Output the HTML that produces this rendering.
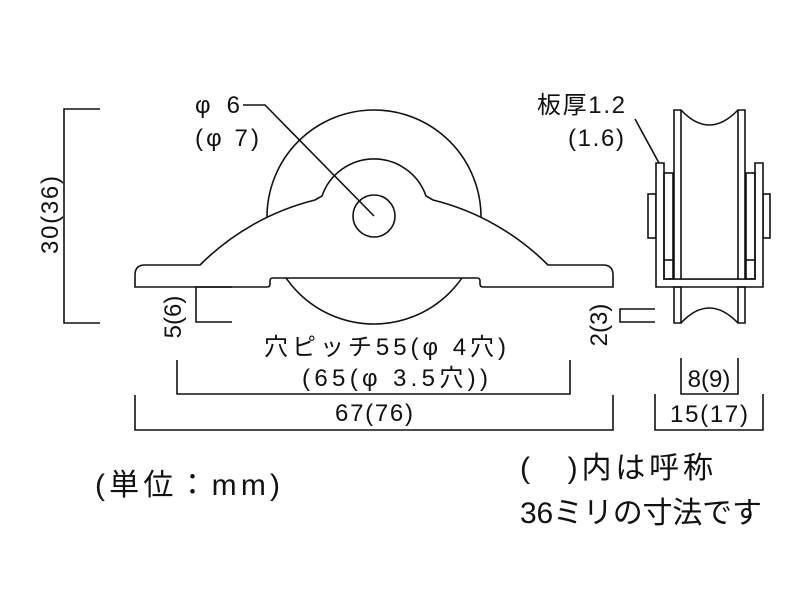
<!DOCTYPE html>
<html><head><meta charset="utf-8"><style>
html,body{margin:0;padding:0;background:#fff;}
svg{display:block;}
text{font-family:"Liberation Sans","Noto Sans CJK JP",sans-serif;fill:#111;}
</style></head><body>
<svg width="800" height="600" viewBox="0 0 800 600" xmlns="http://www.w3.org/2000/svg">
<g fill="none" stroke="#111" stroke-width="1.6">
<circle cx="374" cy="217" r="107" fill="#fff"/>
<path d="M145,265 L200,265 A246,246 0 0 1 315,200 L322,196 A55,55 0 0 1 426,196 L433,200 A246,246 0 0 1 548,265 L603,265 Q613,265 613,275 L613,287 L483,287 Q480,287 480,284 L480,281 Q480,278 477,278 L273,278 Q270,278 270,281 L270,284 Q270,287 267,287 L135,287 L135,275 Q135,265 145,265 Z" fill="#fff"/>
<circle cx="374" cy="216" r="21" fill="#fff"/>
<polyline points="243,105 265,105 374,216"/>
<polyline points="100,109 64,109 64,323 100,323"/>
<polyline points="232,287 196,287 196,322 232,322"/>
<polyline points="177,360 177,394 570,394 570,360"/>
<polyline points="135,395 135,430 613,430 613,395"/>
<rect x="648" y="194" width="8" height="44" fill="#fff"/>
<rect x="763" y="194" width="7" height="44" fill="#fff"/>
<path d="M656,163 L664,163 L664,279 L755,279 L755,163 L763,163 L763,287 L656,287 Z" fill="#fff"/>
<rect x="664" y="173" width="9" height="106"/>
<line x1="664" y1="260" x2="673" y2="260"/>
<rect x="746" y="173" width="9" height="106"/>
<line x1="746" y1="260" x2="755" y2="260"/>
<path d="M674,110 L681,110 Q709,140 738,110 L745,110 L745,279 L674,279 Z" fill="#fff"/>
<line x1="681" y1="110" x2="681" y2="279"/>
<line x1="738" y1="110" x2="738" y2="279"/>
<path d="M674,287 L681,287 L681,323 L674,323 Z M738,287 L745,287 L745,323 L738,323 Z"/>
<path d="M681,323 Q709,293 738,323"/>
<line x1="635" y1="119" x2="659" y2="163"/>
<polyline points="655,309 620,309 620,322 655,322"/>
<polyline points="681,358 681,394 738,394 738,358"/>
<polyline points="655,394 655,430 763,430 763,394"/>
</g>
<g font-size="24">
<text x="195" y="113" textLength="45">φ 6</text>
<text x="195" y="146" textLength="64">(φ 7)</text>
<text x="537" y="113" textLength="88">板厚1.2</text>
<text x="568" y="146" textLength="56">(1.6)</text>
<text x="385" y="355" text-anchor="middle" textLength="242">穴ピッチ55(φ 4穴)</text>
<text x="395" y="386" text-anchor="middle" textLength="186">(65(φ 3.5穴))</text>
<text x="374" y="421" text-anchor="middle" textLength="78">67(76)</text>
<text x="709" y="387" text-anchor="middle">8(9)</text>
<text x="709" y="422" text-anchor="middle" textLength="78">15(17)</text>
<text transform="translate(58,215) rotate(-90)" text-anchor="middle" textLength="78">30(36)</text>
<text transform="translate(181,317) rotate(-90)" text-anchor="middle">5(6)</text>
<text transform="translate(607,325) rotate(-90)" text-anchor="middle">2(3)</text>
</g>
<g font-size="30">
<text x="95" y="495" textLength="185">(単位：mm)</text>
<text x="520" y="478" textLength="193">(　)内は呼称</text>
<text x="520" y="523" textLength="242">36ミリの寸法です</text>
</g>
</svg>
</body></html>
